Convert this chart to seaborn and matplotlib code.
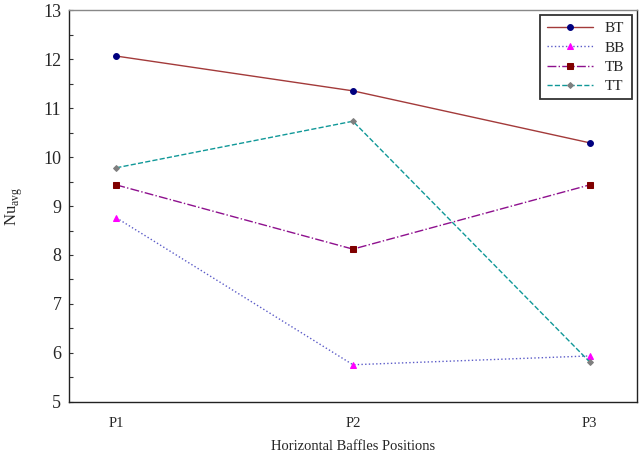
import matplotlib
matplotlib.use("Agg")
import matplotlib.pyplot as plt
import seaborn as sns
import pandas as pd
from matplotlib.ticker import MultipleLocator

positions = ["P1", "P2", "P3"]
bt = [12.06, 11.35, 10.29]
bb = [8.76, 5.76, 5.94]
tb = [9.43, 8.12, 9.43]
tt = [9.78, 10.73, 5.82]

sns.set_theme(style="white")
plt.rcParams["font.family"] = ["Liberation Serif", "DejaVu Serif"]
plt.rcParams["mathtext.fontset"] = "custom"
plt.rcParams["mathtext.rm"] = "Liberation Serif"

fig = plt.figure(figsize=(6.41, 4.55), dpi=100)
ax = fig.add_axes([0.1076, 0.1165, 0.886, 0.8615])

x = [1, 2, 3]
series = [
    ("BT", bt, dict(color="#a33a3a", linestyle="-", marker="o", markerfacecolor="#00007f",
                    markeredgecolor="#00007f", markersize=4.2, linewidth=1.0)),
    ("BB", bb, dict(color="#5c5cc8", linestyle=":", marker="^", markerfacecolor="#ff00ff",
                    markeredgecolor="#ff00ff", markersize=4.2, linewidth=1.0)),
    ("TB", tb, dict(color="#8e108e", linestyle="-.", marker="s", markerfacecolor="#800000",
                    markeredgecolor="#800000", markersize=4.5, linewidth=1.0)),
    ("TT", tt, dict(color="#109898", linestyle="--", marker="D", markerfacecolor="#7f7f7f",
                    markeredgecolor="#7f7f7f", markersize=3.0, linewidth=1.0)),
]
for name, vals, kw in series:
    df = pd.DataFrame({"pos": x, "val": vals})
    sns.lineplot(data=df, x="pos", y="val", ax=ax, label=name, **kw)

ax.set_xlim(0.8, 3.2)
ax.set_ylim(5, 13)
ax.set_xticks(x)
ax.set_xticklabels(positions)
ax.yaxis.set_major_locator(MultipleLocator(1))
ax.yaxis.set_minor_locator(MultipleLocator(0.5))
ax.tick_params(axis="y", which="both", direction="in", left=True, length=3, width=0.8,
               labelsize=13, pad=5.5, color="#333333")
ax.tick_params(axis="x", which="both", bottom=False, length=0, labelsize=10.5, pad=11)

for side, sp in ax.spines.items():
    sp.set_linewidth(1.0)
    sp.set_color("#222222" if side in ("left", "bottom", "right") else "#888888")

ax.set_xlabel("Horizontal Baffles Positions", fontsize=10.5, labelpad=7)
ax.set_ylabel(r"Nu$_{\rm avg}$", fontsize=12, labelpad=13)

leg = ax.legend(loc="upper right", fontsize=11, frameon=True, fancybox=False,
                edgecolor="black", handlelength=3.0, handletextpad=0.8,
                borderaxespad=0.35, labelspacing=0.36, borderpad=0.42)
leg.get_frame().set_linewidth(1.3)

fig.savefig("out.png", dpi=100)
